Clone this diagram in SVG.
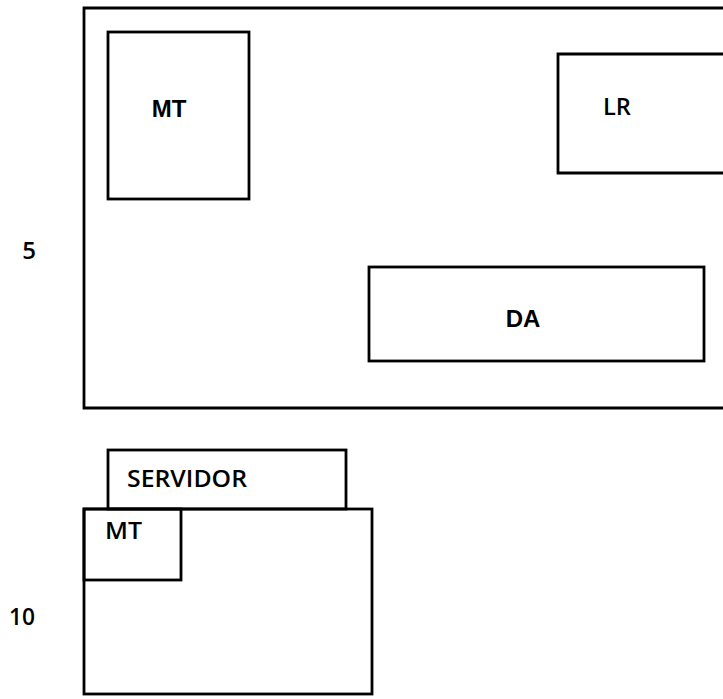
<svg xmlns="http://www.w3.org/2000/svg" width="723" height="699" viewBox="0 0 723 699">
<style>
.box{fill:none;stroke:#000;stroke-width:2.8}
.t{font-family:"Liberation Sans",Arial,sans-serif;font-weight:bold;font-size:24px;fill:#000}
.c{font-family:"Open Sans","Liberation Sans",sans-serif;font-weight:600;font-size:24px;fill:#000}
</style>
<rect width="723" height="699" fill="#fff"/>
<g id="outer5"><path class="box" d="M725,8 H84 V408 H725"/></g>
<g id="mt1"><rect class="box" x="108" y="32" width="141" height="167"/><text class="t" x="169" y="117" text-anchor="middle">MT</text></g>
<g id="lr"><path class="box" d="M725,54 H558 V173 H725"/><text class="c" x="603" y="115" textLength="28" lengthAdjust="spacingAndGlyphs">LR</text></g>
<g id="da"><rect class="box" x="369" y="267" width="335" height="94"/><text class="t" x="523" y="327" text-anchor="middle">DA</text></g>
<g id="label5"><text class="c" x="29" y="259" text-anchor="middle">5</text></g>
<g id="servidor"><rect class="box" x="108" y="450" width="238" height="59"/><text class="c" x="127" y="487" textLength="120" lengthAdjust="spacingAndGlyphs">SERVIDOR</text></g>
<g id="outer10"><rect class="box" x="84" y="509" width="288" height="185"/></g>
<g id="mt2"><rect class="box" x="84" y="509" width="97" height="71"/><text class="c" x="105" y="539" textLength="37" lengthAdjust="spacingAndGlyphs">MT</text></g>
<g id="label10"><text class="c" x="22" y="625" text-anchor="middle" textLength="26" lengthAdjust="spacingAndGlyphs">10</text></g>
<g id="connectors"></g>
</svg>
